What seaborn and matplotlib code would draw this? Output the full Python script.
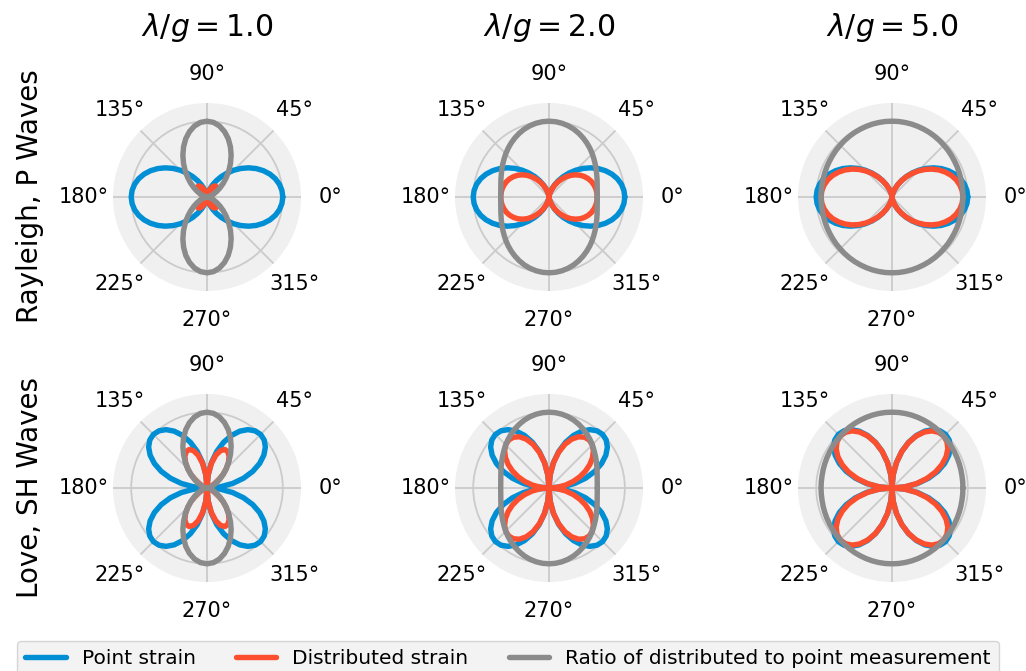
import numpy as np
import pandas as pd
import matplotlib
matplotlib.use("Agg")
import matplotlib.pyplot as plt
import seaborn as sns
from matplotlib.lines import Line2D

# ---- data (one quadrant, 0..90 deg every 5 deg; curves are symmetric) ----
angles_quadrant_deg = list(range(0, 91, 5))

ratio_lg1 = [0.000, 0.004, 0.015, 0.035, 0.064, 0.102, 0.150, 0.209, 0.279, 0.358,
             0.446, 0.540, 0.637, 0.731, 0.819, 0.893, 0.951, 0.988, 1.000]
ratio_lg2 = [0.637, 0.639, 0.646, 0.658, 0.675, 0.695, 0.719, 0.746, 0.775, 0.807,
             0.839, 0.870, 0.900, 0.928, 0.953, 0.973, 0.988, 0.997, 1.000]
ratio_lg5 = [0.936, 0.936, 0.937, 0.940, 0.943, 0.947, 0.951, 0.956, 0.962, 0.967,
             0.973, 0.979, 0.984, 0.988, 0.992, 0.996, 0.998, 1.000, 1.000]

rayleigh_point = [1.000, 0.992, 0.970, 0.933, 0.883, 0.821, 0.750, 0.671, 0.587, 0.500,
                  0.413, 0.329, 0.250, 0.179, 0.117, 0.067, 0.030, 0.008, 0.000]
rayleigh_dist_lg1 = [0.000, 0.004, 0.015, 0.033, 0.056, 0.084, 0.113, 0.140, 0.164, 0.179,
                     0.184, 0.178, 0.159, 0.131, 0.096, 0.060, 0.029, 0.008, 0.000]
rayleigh_dist_lg2 = [0.637, 0.634, 0.627, 0.614, 0.596, 0.571, 0.539, 0.501, 0.455, 0.403,
                     0.346, 0.286, 0.225, 0.166, 0.111, 0.065, 0.030, 0.008, 0.000]
rayleigh_dist_lg5 = [0.936, 0.929, 0.909, 0.877, 0.833, 0.777, 0.714, 0.642, 0.565, 0.484,
                     0.402, 0.322, 0.246, 0.177, 0.116, 0.067, 0.030, 0.008, 0.000]

love_point = [0.000, 0.174, 0.342, 0.500, 0.643, 0.766, 0.866, 0.940, 0.985, 1.000,
              0.985, 0.940, 0.866, 0.766, 0.643, 0.500, 0.342, 0.174, 0.000]
love_dist_lg1 = [0.000, 0.001, 0.005, 0.018, 0.041, 0.078, 0.130, 0.196, 0.275, 0.358,
                 0.440, 0.508, 0.551, 0.560, 0.526, 0.447, 0.325, 0.172, 0.000]
love_dist_lg2 = [0.000, 0.111, 0.221, 0.329, 0.434, 0.532, 0.623, 0.701, 0.764, 0.807,
                 0.826, 0.818, 0.780, 0.711, 0.613, 0.486, 0.338, 0.173, 0.000]
love_dist_lg5 = [0.000, 0.163, 0.321, 0.470, 0.606, 0.725, 0.824, 0.899, 0.947, 0.967,
                 0.958, 0.920, 0.852, 0.757, 0.638, 0.498, 0.341, 0.174, 0.000]

lambda_over_g = [1.0, 2.0, 5.0]
wave_types = ["Rayleigh, P Waves", "Love, SH Waves"]
series_names = ["Point strain", "Distributed strain",
                "Ratio of distributed to point measurement"]
series_colors = ["#008fd5", "#fc4f30", "#8b8b8b"]

ratios = {1.0: ratio_lg1, 2.0: ratio_lg2, 5.0: ratio_lg5}
points = {"Rayleigh, P Waves": rayleigh_point, "Love, SH Waves": love_point}
dists = {("Rayleigh, P Waves", 1.0): rayleigh_dist_lg1,
         ("Rayleigh, P Waves", 2.0): rayleigh_dist_lg2,
         ("Rayleigh, P Waves", 5.0): rayleigh_dist_lg5,
         ("Love, SH Waves", 1.0): love_dist_lg1,
         ("Love, SH Waves", 2.0): love_dist_lg2,
         ("Love, SH Waves", 5.0): love_dist_lg5}


def full_circle(q):
    """Mirror quadrant readings to 0..360 deg (curves are symmetric)."""
    half = list(q) + list(q[-2::-1])
    return half + half[1:]


angles_full_deg = angles_quadrant_deg + [180 - a for a in angles_quadrant_deg[-2::-1]]
angles_full_deg = angles_full_deg + [180 + a for a in angles_full_deg[1:]]

rows = []
for w in wave_types:
    for lg in lambda_over_g:
        for name, q in zip(series_names, [points[w], dists[(w, lg)], ratios[lg]]):
            for a, r in zip(angles_full_deg, full_circle(q)):
                rows.append(dict(wave=w, lg=lg, series=name,
                                 theta=np.deg2rad(a), r=r))
df = pd.DataFrame(rows)

# ---- style ----
sns.set_style("white")
plt.rcParams["font.family"] = ["DejaVu Sans"]
plt.rcParams["text.color"] = "black"

W, H = 1026, 671
fig = plt.figure(figsize=(W / 100, H / 100), dpi=100, facecolor="white")

col_cx = [207, 549, 892]
row_cy = [197, 488]
rad = 94

palette = dict(zip(series_names, series_colors))

for i, w in enumerate(wave_types):
    for j, lg in enumerate(lambda_over_g):
        cx, cy = col_cx[j], row_cy[i]
        ax = fig.add_axes([(cx - rad) / W, 1 - (cy + rad) / H, 2 * rad / W, 2 * rad / H],
                          projection="polar")
        ax.set_facecolor("#f0f0f0")
        sub = df[(df.wave == w) & (df.lg == lg)]
        sns.lineplot(data=sub, x="theta", y="r", hue="series", hue_order=series_names,
                     palette=palette, sort=False, estimator=None, units="series",
                     linewidth=3.9, ax=ax, legend=False)
        ax.set_xlabel("")
        ax.set_ylabel("")
        ax.set_ylim(0, 1.24)
        ax.set_rticks([1.0])
        ax.set_yticklabels([])
        ax.set_thetagrids(range(0, 360, 45))
        ax.tick_params(axis="x", labelsize=15, pad=10.5, colors="black")
        ax.grid(True, color="#cbcbcb", linewidth=1.3)
        ax.spines["polar"].set_visible(False)

for j, lg in enumerate(lambda_over_g):
    fig.text(col_cx[j] / W, 1 - 28 / H, r"$\lambda/g = %.1f$" % lg,
             ha="center", va="center", fontsize=21.5, color="black")

for i, w in enumerate(wave_types):
    fig.text(30 / W, 1 - (row_cy[i] - 1) / H, w, rotation=90,
             ha="center", va="center", fontsize=20, color="black")

handles = [Line2D([0], [0], color=c, linewidth=3.9) for c in series_colors]
leg = fig.legend(handles, series_names, loc="upper center", ncol=3,
                 bbox_to_anchor=(508 / W, 1 - 641 / H), borderaxespad=0,
                 fontsize=14.5, frameon=True, fancybox=True)
leg.get_frame().set_facecolor("#f0f0f0")
leg.get_frame().set_edgecolor("#cccccc")
for t in leg.get_texts():
    t.set_color("black")

fig.savefig("out.png", dpi=100, facecolor="white")
